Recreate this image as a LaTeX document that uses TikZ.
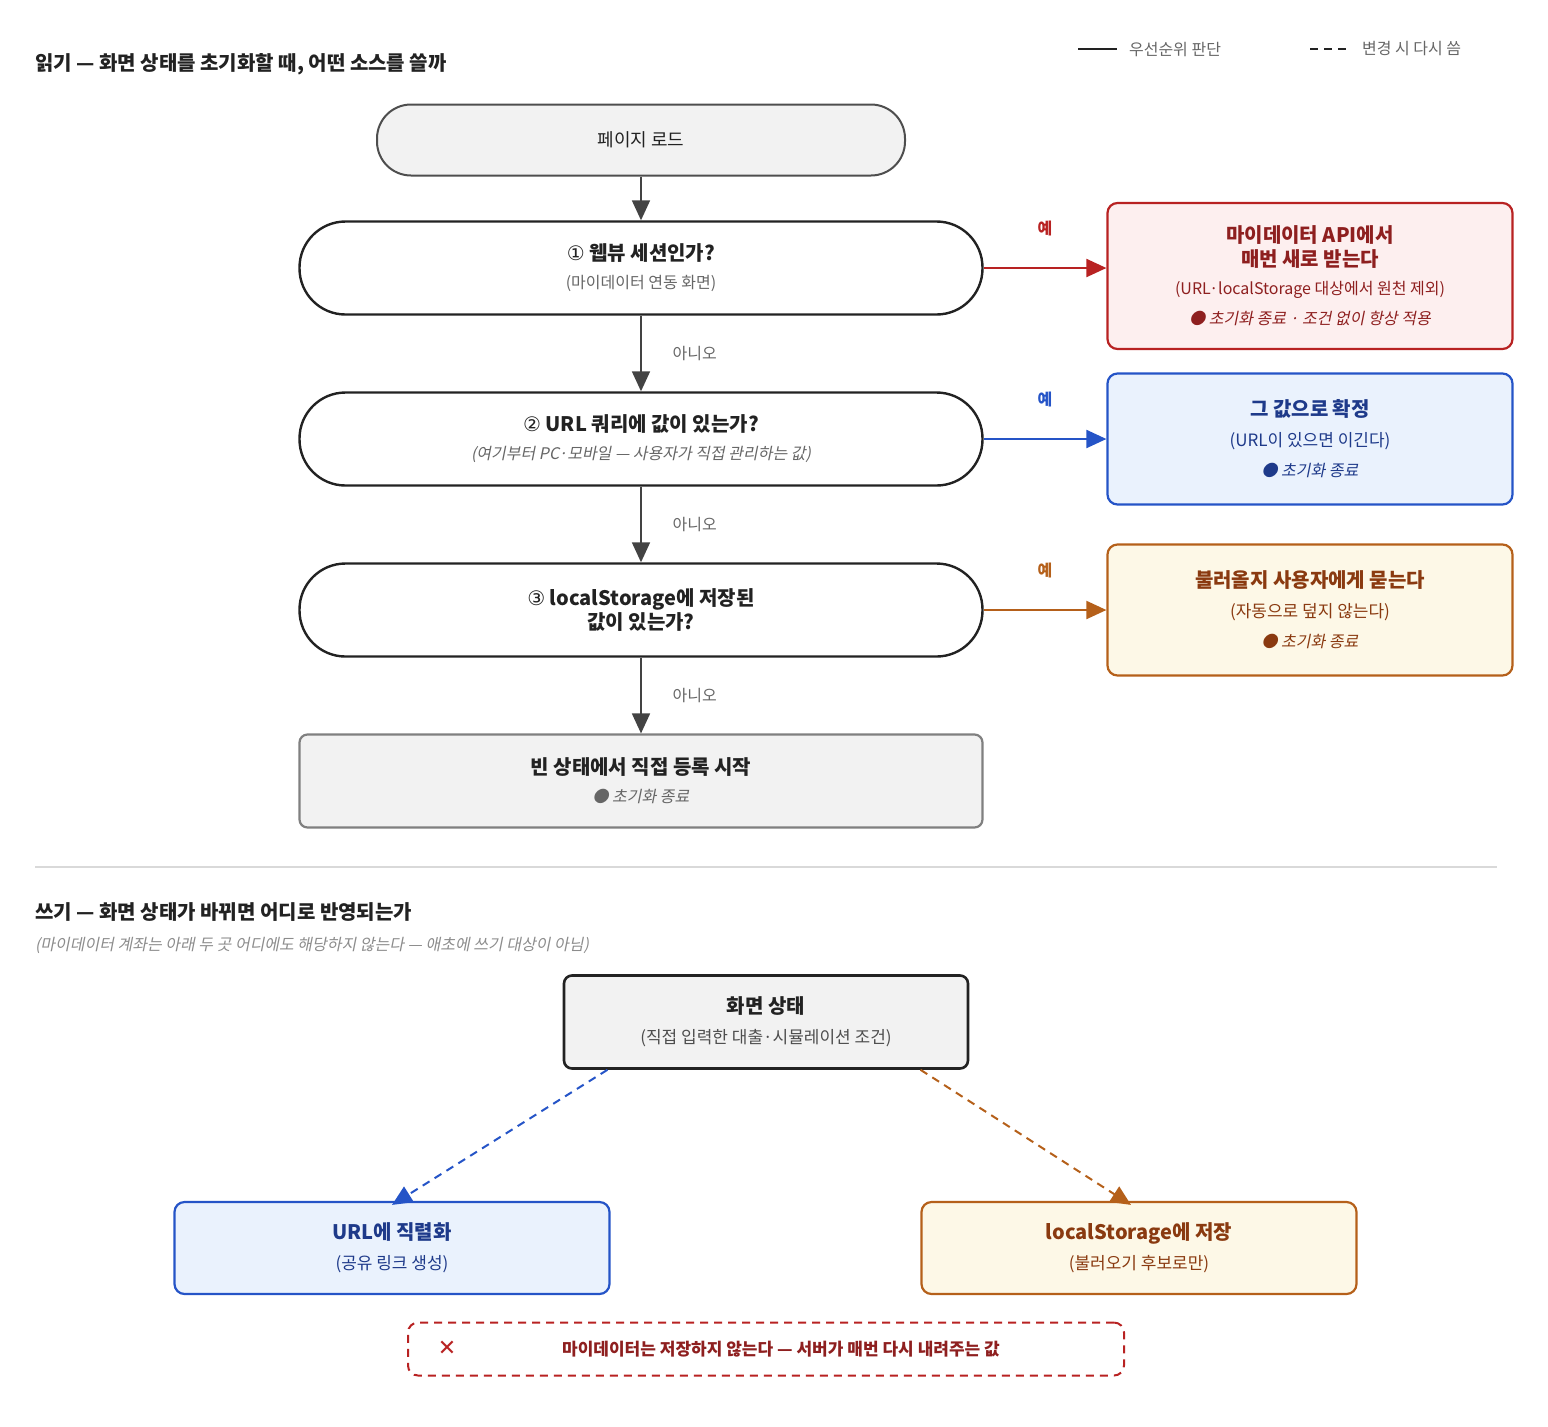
\documentclass[tikz,border=0pt]{standalone}
\usepackage{fontspec}
\setmainfont{Noto Sans CJK KR}[AutoFakeSlant=0.2]
\newfontfamily\symfont{DejaVu Sans}
\usepackage{xcolor}
\usetikzlibrary{arrows.meta,positioning,calc}
\definecolor{redline}{HTML}{B82222}
\definecolor{redfill}{HTML}{FDEFEF}
\definecolor{redtext}{HTML}{8E1F1F}
\definecolor{blueline}{HTML}{2554C7}
\definecolor{bluefill}{HTML}{EAF2FD}
\definecolor{bluetext}{HTML}{1E3A8A}
\definecolor{orgline}{HTML}{B5601A}
\definecolor{orgfill}{HTML}{FDF8E7}
\definecolor{orgtext}{HTML}{8A3A10}
\definecolor{ink}{HTML}{222222}
\definecolor{greytext}{HTML}{666666}

\begin{document}
\begin{tikzpicture}[x=0.5pt, y=-0.5pt, >={Triangle[length=10pt,width=9pt]},
  every node/.style={font=\fontsize{9}{12}\selectfont, text=ink},
  question/.style={draw=ink, line width=1.2pt, rounded corners=23pt, fill=white,
    minimum width=341.5pt, minimum height=46.5pt, align=center},
  outcome/.style={line width=1.1pt, rounded corners=5pt, minimum width=202.5pt, align=center},
  flow/.style={->, draw=ink!85, line width=0.9pt},
  answer/.style={font=\fontsize{8}{10}\selectfont, text=greytext},
  yes/.style={font=\bfseries\fontsize{8}{10}\selectfont}]
  \useasboundingbox (0,0) rectangle (1548,1426);

  % legend
  \draw[ink, line width=0.9pt] (1078,49) -- (1117,49);
  \node[anchor=west, text=greytext, font=\fontsize{8}{10}\selectfont] at (1122,49) {우선순위 판단};
  \draw[ink, line width=0.9pt, dash pattern=on 4pt off 3pt] (1310,49) -- (1346,49);
  \node[anchor=west, text=greytext, font=\fontsize{8}{10}\selectfont] at (1355,49) {변경 시 다시 씀};

  % read
  \node[anchor=west, font=\bfseries\fontsize{10}{12}\selectfont] at (28,64) {읽기 — 화면 상태를 초기화할 때, 어떤 소스를 쓸까};

  \node[draw=ink!80, line width=1pt, fill=black!5, rounded corners=17pt,
    minimum width=264pt, minimum height=35.5pt] (load) at (641,140) {페이지 로드};
  \node[question] (web) at (641,268) {{\fontsize{10}{12}\selectfont{\symfont ①}\bfseries{} 웹뷰 세션인가?}\\[2pt]
    {\fontsize{8}{10}\selectfont\color{greytext}(마이데이터 연동 화면)}};
  \node[question] (url) at (641,439) {{\fontsize{10}{12}\selectfont{\symfont ②}\bfseries{} URL 쿼리에 값이 있는가?}\\[2pt]
    {\fontsize{8}{10}\selectfont\itshape\color{greytext}(여기부터 PC·모바일 — 사용자가 직접 관리하는 값)}};
  \node[question] (local) at (641,610) {{\fontsize{10}{13}\selectfont{\symfont ③}\bfseries{} localStorage에 저장된}\\
    {\bfseries\fontsize{10}{13}\selectfont 값이 있는가?}};
  \node[draw=black!50, line width=1.1pt, fill=black!5, rounded corners=4pt,
    minimum width=341.5pt, minimum height=46.5pt, align=center] (empty) at (641,781)
    {{\bfseries\fontsize{10}{12}\selectfont 빈 상태에서 직접 등록 시작}\\[2pt]
    {\fontsize{8}{10}\selectfont\itshape\color{greytext}● 초기화 종료}};

  \node[outcome, draw=redline, fill=redfill, minimum height=73pt] (api) at (1310,276)
    {{\bfseries\fontsize{10}{13}\selectfont\color{redtext}마이데이터 API에서}\\
    {\bfseries\fontsize{10}{13}\selectfont\color{redtext}매번 새로 받는다}\\[2pt]
    {\fontsize{8}{10}\selectfont\color{redtext}(URL·localStorage 대상에서 원천 제외)}\\[3pt]
    {\fontsize{8}{10}\selectfont\itshape\color{redtext}● 초기화 종료 · 조건 없이 항상 적용}};
  \node[outcome, draw=blueline, fill=bluefill, minimum height=65.5pt] (fix) at (1310,439)
    {{\bfseries\fontsize{10}{12}\selectfont\color{bluetext}그 값으로 확정}\\[3pt]
    {\fontsize{8.5}{10}\selectfont\color{bluetext}(URL이 있으면 이긴다)}\\[3pt]
    {\fontsize{8}{10}\selectfont\itshape\color{bluetext}● 초기화 종료}};
  \node[outcome, draw=orgline, fill=orgfill, minimum height=65.5pt] (ask) at (1310,610)
    {{\bfseries\fontsize{10}{12}\selectfont\color{orgtext}불러올지 사용자에게 묻는다}\\[3pt]
    {\fontsize{8.5}{10}\selectfont\color{orgtext}(자동으로 덮지 않는다)}\\[3pt]
    {\fontsize{8}{10}\selectfont\itshape\color{orgtext}● 초기화 종료}};

  \draw[flow] (load) -- (web);
  \draw[flow] (web) -- node[answer, right=12pt] {아니오} (url);
  \draw[flow] (url) -- node[answer, right=12pt] {아니오} (local);
  \draw[flow] (local) -- node[answer, right=12pt] {아니오} (empty);
  \draw[->, redline, line width=1pt] (web.east) -- node[yes, text=redline, above=12pt] {예} (api.west |- web.east);
  \draw[->, blueline, line width=1pt] (url) -- node[yes, text=blueline, above=12pt] {예} (fix);
  \draw[->, orgline, line width=1pt] (local) -- node[yes, text=orgline, above=12pt] {예} (ask);

  \draw[black!15, line width=0.6pt] (35,867) -- (1497,867);

  % write
  \node[anchor=west, font=\bfseries\fontsize{10}{12}\selectfont] at (28,912) {쓰기 — 화면 상태가 바뀌면 어디로 반영되는가};
  \node[anchor=west, font=\fontsize{8}{10}\selectfont\itshape, text=black!45] at (28,945)
    {(마이데이터 계좌는 아래 두 곳 어디에도 해당하지 않는다 — 애초에 쓰기 대상이 아님)};

  \node[draw=ink, line width=1.3pt, fill=black!5, rounded corners=4pt,
    minimum width=202pt, minimum height=46.5pt, align=center] (state) at (766,1022)
    {{\bfseries\fontsize{10}{12}\selectfont 화면 상태}\\[3pt]
    {\fontsize{8.5}{10}\selectfont\color{ink!80}(직접 입력한 대출·시뮬레이션 조건)}};
  \node[outcome, draw=blueline, fill=bluefill, minimum width=217.5pt, minimum height=46pt] (ser) at (392,1248)
    {{\bfseries\fontsize{10}{12}\selectfont\color{bluetext}URL에 직렬화}\\[3pt]
    {\fontsize{8.5}{10}\selectfont\color{bluetext}(공유 링크 생성)}};
  \node[outcome, draw=orgline, fill=orgfill, minimum width=217.5pt, minimum height=46pt] (save) at (1139,1248)
    {{\bfseries\fontsize{10}{12}\selectfont\color{orgtext}localStorage에 저장}\\[3pt]
    {\fontsize{8.5}{10}\selectfont\color{orgtext}(불러오기 후보로만)}};

  \draw[->, blueline, line width=1pt, dash pattern=on 4pt off 3pt]
    ($(state.south west)!0.11!(state.south east)$) -- ($(ser.north)+(0,4)$);
  \draw[->, orgline, line width=1pt, dash pattern=on 4pt off 3pt]
    ($(state.south west)!0.88!(state.south east)$) -- ($(save.north)+(-8,4)$);

  \node[draw=redline, line width=1pt, dash pattern=on 4pt off 3pt, rounded corners=5pt,
    minimum width=358pt, minimum height=26.5pt] (nosave) at (766,1349) {};
  \node[text=redline, font=\symfont\bfseries\fontsize{11}{12}\selectfont] (cross) at (447,1348) {✕};
  \node[text=redtext, font=\bfseries\fontsize{8.5}{10}\selectfont] at (781,1349)
    {마이데이터는 저장하지 않는다 — 서버가 매번 다시 내려주는 값};
\end{tikzpicture}
\end{document}
